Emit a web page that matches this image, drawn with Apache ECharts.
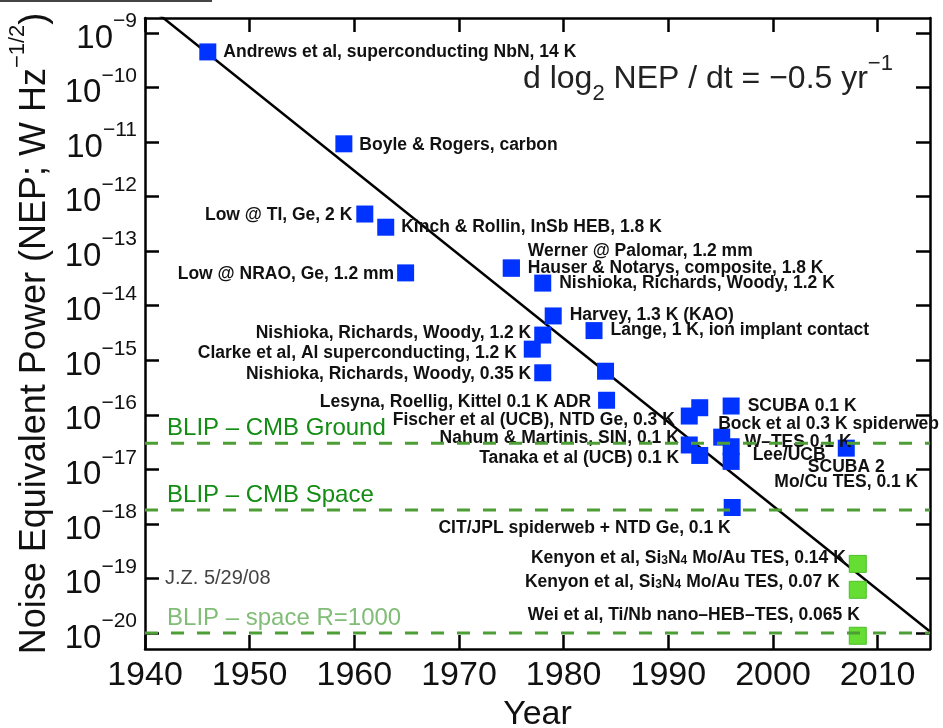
<!DOCTYPE html>
<html>
<head>
<meta charset="utf-8">
<title>NEP vs year</title>
<script src="https://cdn.jsdelivr.net/npm/echarts@6/dist/echarts.min.js"></script>
<style>
html, body { margin: 0; padding: 0; background: #fff; }
#chart { width: 943px; height: 728px; }
</style>
</head>
<body>
<div id="chart"></div>
<script>
// axis ticks
const yearTicks = [1940, 1950, 1960, 1970, 1980, 1990, 2000, 2010];
const nepTicks = [1e-20, 1e-19, 1e-18, 1e-17, 1e-16, 1e-15, 1e-14, 1e-13, 1e-12, 1e-11, 1e-10, 1e-9];

// trend line, d log2 NEP / dt = -0.5 / yr
const trendYears = [1940, 2015];
const trendNep = [3.5e-9, 1.07e-20];

// background limits (dashed), drawn across the whole year range
const blipYears = [1940, 2015];
const blipLevels = [3e-17, 1.8e-18, 1e-20];
const blipNames = ['BLIP – CMB Ground', 'BLIP – CMB Space', 'BLIP – space R=1000'];

// detectors (blue)
const blueYears = [1946.0, 1959.0, 1961.0, 1963.0, 1964.9, 1975.0, 1975.0, 1978.0, 1979.0, 1982.9,
    1978.0, 1977.0, 1978.0, 1984.0, 1984.1, 1992.0, 1993.0, 1996.0, 1992.0, 1993.0,
    1995.1, 1996.0, 1996.0, 2007.0, 1996.1];
const blueNep = [4.5e-10, 9.3e-12, 4.8e-13, 2.75e-13, 4.0e-14, 4.9e-14, 4.9e-14, 2.6e-14, 6.5e-15, 3.5e-15,
    2.9e-15, 1.6e-15, 5.9e-16, 6.3e-16, 1.85e-16, 9.5e-17, 1.35e-16, 1.45e-16, 2.8e-17, 1.8e-17,
    3.9e-17, 2.6e-17, 1.4e-17, 2.45e-17, 2.0e-18];
const blueNames = [
    'Andrews et al, superconducting NbN, 14 K',
    'Boyle & Rogers, carbon',
    'Low @ TI, Ge, 2 K',
    'Kinch & Rollin, InSb HEB, 1.8 K',
    'Low @ NRAO, Ge, 1.2 mm',
    'Werner @ Palomar, 1.2 mm',
    'Hauser & Notarys, composite, 1.8 K',
    'Nishioka, Richards, Woody, 1.2 K',
    'Harvey, 1.3 K (KAO)',
    'Lange, 1 K, ion implant contact',
    'Nishioka, Richards, Woody, 1.2 K',
    'Clarke et al, Al superconducting, 1.2 K',
    'Nishioka, Richards, Woody, 0.35 K',
    '',
    'Lesyna, Roellig, Kittel 0.1 K ADR',
    'Fischer et al (UCB), NTD Ge, 0.3 K',
    '',
    'SCUBA 0.1 K',
    'Nahum & Martinis, SIN, 0.1 K',
    'Tanaka et al (UCB) 0.1 K',
    'Bock et al 0.3 K spiderweb',
    'W–TES 0.1 K',
    'Lee/UCB',
    'SCUBA 2\nMo/Cu TES, 0.1 K',
    'CIT/JPL spiderweb + NTD Ge, 0.1 K'
];

// newest detectors (green)
const greenYears = [2008.1, 2008.1, 2008.1];
const greenNep = [1.85e-19, 6.2e-20, 8.9e-21];
const greenNames = [
    'Kenyon et al, Si3N4 Mo/Au TES, 0.14 K',
    'Kenyon et al, Si3N4 Mo/Au TES, 0.07 K',
    'Wei et al, Ti/Nb nano–HEB–TES, 0.065 K'
];

// label placement: [position, distance, dx, dy]
const bluePlace = [
    ['right', 7, 0, 0], ['right', 7, 0, 1], ['left', 4, 0, 1], ['right', 7, 0, 0], ['left', 3, 0, 1],
    ['right', 8, 0, -17], ['right', 8, 0, 0], ['right', 8, 0, 0], ['right', 8, 0, -1], ['right', 8, 0, 0],
    ['left', 3, 0, -2], ['left', 7, 0, 4], ['left', 3, 0, 1], ['right', 8, 0, 0], ['left', 7, 0, 2],
    ['left', 6, 0, 4], ['right', 8, 0, 0], ['right', 8, 0, 0], ['left', 2, 0, -7], ['left', 12, 0, 3],
    ['right', 0, -12, -13], ['right', 5, 0, -5], ['right', 13, 0, -6], ['bottom', 3, 0, 0], ['left', 0, 7, 21]
];
const greenPlace = [['left', 3, 0, -6], ['left', 9, 0, -8], ['left', 0, 11, -21]];

const textColor = '#111';
const labelFont = { fontSize: 17.5, fontWeight: 'bold', color: textColor };

function points(years, neps, names, place) {
    return years.map(function (y, i) {
        const p = place[i];
        return {
            value: [y, neps[i]],
            name: names[i],
            label: {
                show: names[i] !== '',
                position: p[0],
                distance: p[1],
                offset: [p[2], p[3]],
                align: p[0] === 'bottom' ? 'center' : undefined,
                lineHeight: p[0] === 'bottom' ? 15 : undefined
            }
        };
    });
}

function pointLabel(params) {
    return params.name.replace('Si3N4', 'Si{sub|3}N{sub|4}');
}

const chart = echarts.init(document.getElementById('chart'));

const tickStyle = { show: true, inside: true, length: 14, lineStyle: { color: '#000', width: 2.5 } };
const lineStyle = { show: true, lineStyle: { color: '#000', width: 2.5 } };

const blipSeries = blipLevels.map(function (v, i) {
    return {
        name: blipNames[i],
        type: 'line',
        z: 5,
        silent: true,
        symbol: 'circle',
        symbolSize: 0.1,
        itemStyle: { color: '#4d9e35' },
        lineStyle: { color: '#4d9e35', width: 3, type: [13, 13] },
        data: blipYears.map(function (y, j) {
            return {
                value: [y, v],
                name: blipNames[i],
                label: {
                    show: j === 0,
                    formatter: '{b}',
                    position: 'right',
                    distance: 22,
                    offset: [0, -15],
                    fontSize: 24,
                    color: i === 2 ? '#80bd76' : '#128c12'
                }
            };
        })
    };
});

const option = {
    animation: false,
    backgroundColor: '#fff',
    textStyle: { fontFamily: 'Liberation Sans, Arial, sans-serif' },
    title: {
        left: 523,
        top: 53,
        padding: 0,
        text: '{a|d log}{b|2}{a| NEP / dt = −0.5 yr}{c|−1}',
        textStyle: {
            fontWeight: 'normal',
            rich: {
                a: { fontSize: 32, fontWeight: 'normal', color: '#222', padding: [10, 0, 10, 0] },
                b: { fontSize: 22, fontWeight: 'normal', color: '#222', verticalAlign: 'bottom' },
                c: { fontSize: 22, fontWeight: 'normal', color: '#222', verticalAlign: 'top' }
            }
        }
    },
    grid: { left: 145, right: 13, top: 18, bottom: 79, containLabel: false, outerBoundsMode: 'none' },
    xAxis: [{
        type: 'value',
        position: 'bottom',
        min: 1940,
        max: 2015,
        name: 'Year',
        nameLocation: 'middle',
        nameGap: 45,
        nameTextStyle: { fontSize: 34, color: '#111' },
        axisLine: lineStyle,
        axisTick: Object.assign({ customValues: yearTicks }, tickStyle),
        axisLabel: {
            customValues: yearTicks,
            fontSize: 34,
            color: '#111',
            margin: 10,
            formatter: function (v) { return String(v); }
        },
        splitLine: { show: false }
    }, {
        type: 'value',
        position: 'top',
        min: 1940,
        max: 2015,
        axisLine: lineStyle,
        axisTick: Object.assign({ customValues: yearTicks }, tickStyle),
        axisLabel: { show: false },
        splitLine: { show: false }
    }],
    yAxis: [{
        type: 'log',
        logBase: 10,
        position: 'left',
        min: Math.pow(10, -20.293),
        max: Math.pow(10, -8.725),
        name: '{m|Noise Equivalent Power (NEP; W Hz}{s|−1/2}{m|)}',
        nameLocation: 'middle',
        nameGap: 92,
        nameTextStyle: {
            rich: {
                m: { fontSize: 36, color: '#111', padding: [10, 0, 0, 0] },
                s: { fontSize: 22, color: '#111', verticalAlign: 'top' }
            }
        },
        axisLine: lineStyle,
        axisTick: Object.assign({ customValues: nepTicks }, tickStyle),
        axisLabel: {
            customValues: nepTicks,
            margin: 8,
            formatter: function (v) {
                const e = Math.round(Math.log10(v));
                return '{b|10}{s|−' + (-e) + '}';
            },
            rich: {
                b: { fontSize: 33, color: '#111', padding: [11, 0, 0, 0] },
                s: { fontSize: 21, color: '#111', verticalAlign: 'top' }
            }
        },
        splitLine: { show: false }
    }, {
        type: 'log',
        logBase: 10,
        position: 'right',
        min: Math.pow(10, -20.293),
        max: Math.pow(10, -8.725),
        axisLine: lineStyle,
        axisTick: Object.assign({ customValues: nepTicks }, tickStyle),
        axisLabel: { show: false },
        splitLine: { show: false }
    }],
    graphic: [{
        type: 'line',
        shape: { x1: 0, y1: 1, x2: 212, y2: 1 },
        style: { stroke: '#444', lineWidth: 2 }
    }, {
        type: 'text',
        left: 165,
        top: 568,
        style: { text: 'J.Z. 5/29/08', fontSize: 20, fill: '#444', fontFamily: 'Liberation Sans' }
    }],
    series: [{
        name: 'trend',
        type: 'line',
        z: 1,
        clip: true,
        showSymbol: false,
        silent: true,
        data: trendYears.map(function (y, i) { return [y, trendNep[i]]; }),
        lineStyle: { color: '#000', width: 2.5 }
    }, {
        name: 'detectors',
        type: 'scatter',
        z: 3,
        symbol: 'rect',
        symbolSize: 17,
        itemStyle: { color: '#0033ff', opacity: 1 },
        label: Object.assign({ formatter: pointLabel }, labelFont),
        data: points(blueYears, blueNep, blueNames, bluePlace)
    }, {
        name: 'new detectors',
        type: 'scatter',
        z: 3,
        symbol: 'rect',
        symbolSize: 17,
        itemStyle: { color: '#66dd33', borderColor: '#4cbf28', borderWidth: 1, opacity: 1 },
        label: Object.assign({
            formatter: pointLabel,
            rich: { sub: { fontSize: 12, fontWeight: 'bold', color: textColor, verticalAlign: 'bottom' } }
        }, labelFont),
        data: points(greenYears, greenNep, greenNames, greenPlace)
    }].concat(blipSeries)
};

chart.setOption(option);
</script>
</body>
</html>
